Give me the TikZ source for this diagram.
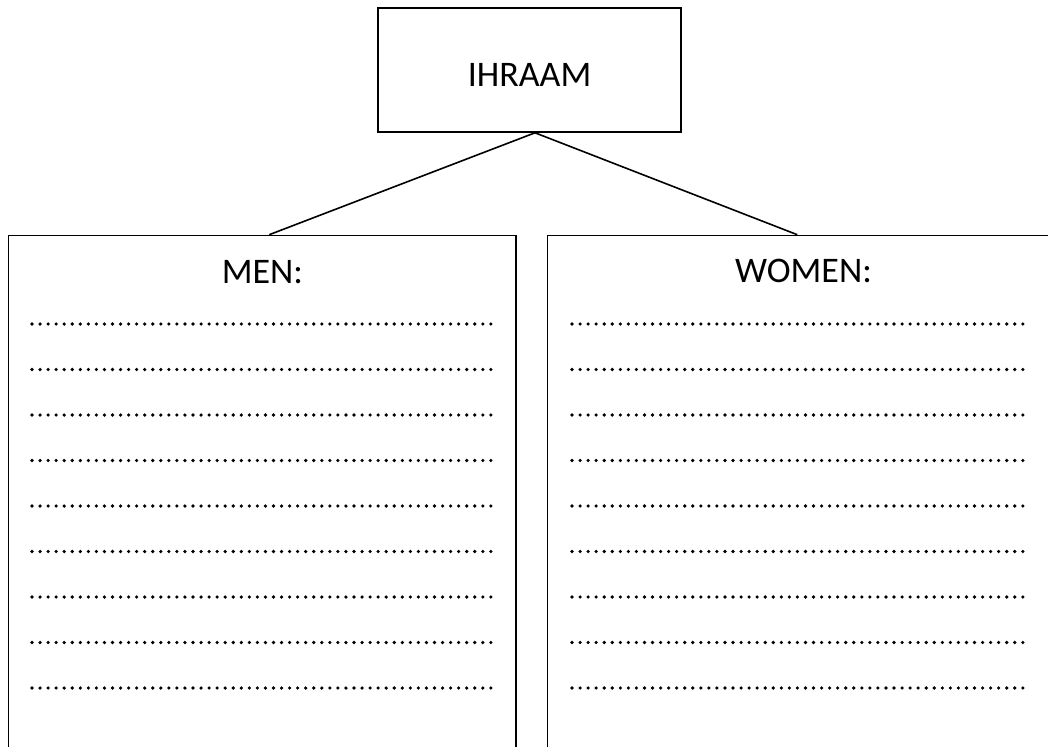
\documentclass[tikz,border=0pt]{standalone}
\usepackage{fontspec}
\setmainfont{Carlito}
\tikzset{
  boxstyle/.style={draw, line width=1.6pt, inner sep=0pt},
  headtext/.style={anchor=base, inner sep=0pt, font=\fontsize{36}{43}\selectfont},
  dotrow/.style={line width=3.6pt, line cap=round, dash pattern=on 0pt off 8.05pt},
  linkline/.style={line width=1.6pt}
}
\begin{document}
\begin{tikzpicture}[x=1pt, y=-1pt]
  \useasboundingbox (0,0) rectangle (1048,746);
  % title box
  \node[boxstyle, minimum width=303pt, minimum height=124pt] (ihraam) at (529.5,70) {};
  \node[headtext] (ihraamtext) at (529.5,87) {IHRAAM};
  % the two panels, running off the bottom of the page
  \node[boxstyle, minimum width=507.5pt, minimum height=530pt] (men) at (262.25,500.5) {};
  \node[boxstyle, minimum width=507.5pt, minimum height=530pt] (women) at (801.25,500.5) {};
  \node[headtext] (mentext) at (262.5,283) {MEN:};
  \node[headtext] (womentext) at (803.5,282) {WOMEN:};
  % connectors
  \coordinate (apex) at ([xshift=5.5pt]ihraam.south);
  \draw[linkline] (apex) -- ([xshift=7pt]men.north);
  \draw[linkline] (apex) -- ([xshift=-4pt]women.north);
  % dotted writing lines
  \foreach \k in {0,...,8} {
    \draw[dotrow] (32,{324+45.5*\k}) -- (491.5,{324+45.5*\k});
    \draw[dotrow] (572,{324+45.5*\k}) -- (1029.5,{324+45.5*\k});
  }
\end{tikzpicture}
\end{document}
